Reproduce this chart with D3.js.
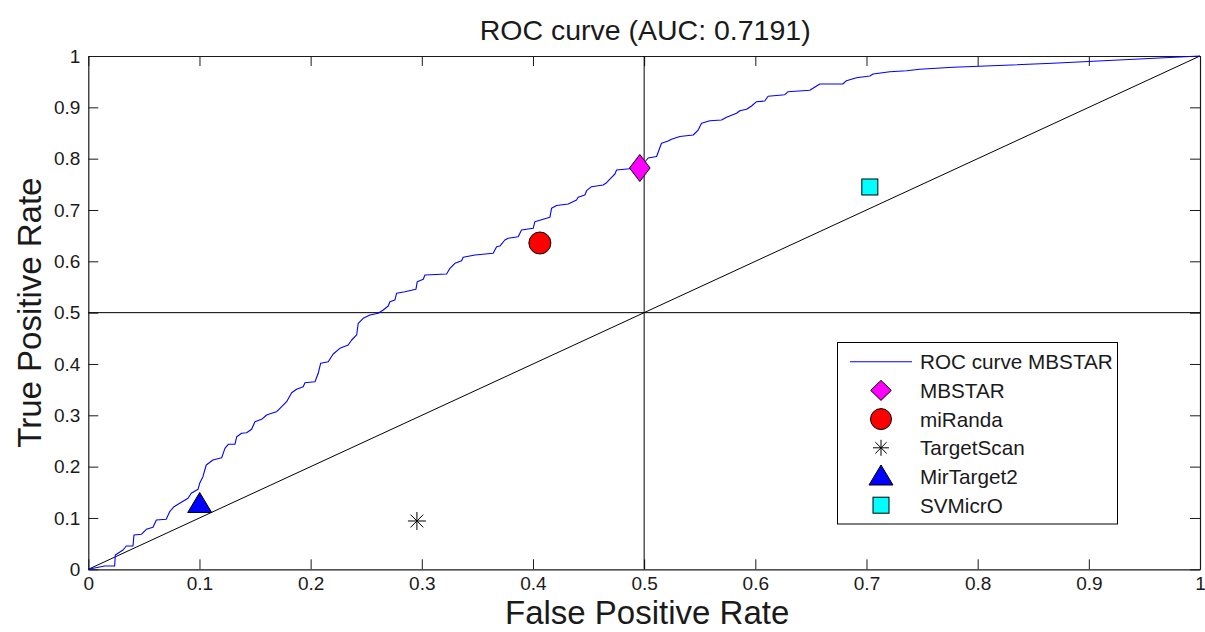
<!DOCTYPE html>
<html>
<head>
<meta charset="utf-8">
<script src="https://cdn.jsdelivr.net/npm/d3@7"></script>
<style>
  html, body { margin: 0; padding: 0; background: #fff; }
  svg { display: block; font-family: "Liberation Sans", Arial, Helvetica, sans-serif; }
</style>
</head>
<body>
<svg id="chart" width="1205" height="632"></svg>
<script>
// ROC curve of MBSTAR (false positive rate, true positive rate)
const rocFpr = [
  0, 0.0147, 0.0237, 0.0243, 0.0312, 0.0342, 0.0402, 0.0411, 0.0477, 0.0522,
  0.0582, 0.0612, 0.0701, 0.0732, 0.0771, 0.0822, 0.0897, 0.0926, 0.0987, 0.1002,
  0.1031, 0.1061, 0.1121, 0.1200, 0.1229, 0.1259, 0.1319, 0.1335, 0.1379, 0.1424,
  0.1469, 0.1499, 0.1559, 0.1604, 0.1649, 0.1694, 0.1724, 0.1784, 0.1829, 0.1874,
  0.1933, 0.1949, 0.2039, 0.2068, 0.2090, 0.2158, 0.2203, 0.2263, 0.2338, 0.2369,
  0.2414, 0.2428, 0.2473, 0.2533, 0.2608, 0.2653, 0.2698, 0.2713, 0.2758, 0.2773,
  0.2848, 0.2947, 0.2959, 0.3013, 0.3028, 0.3223, 0.3253, 0.3298, 0.3358, 0.3372,
  0.3478, 0.3642, 0.3673, 0.3702, 0.3747, 0.3777, 0.3867, 0.3897, 0.4002, 0.4017,
  0.4092, 0.4152, 0.4167, 0.4212, 0.4317, 0.4392, 0.4406, 0.4467, 0.4482, 0.4527,
  0.4631, 0.4662, 0.4707, 0.4737, 0.4752, 0.4871, 0.4961, 0.5036, 0.5112, 0.5156,
  0.5216, 0.5246, 0.5321, 0.5441, 0.5486, 0.5516, 0.5591, 0.5696, 0.5741, 0.5831,
  0.5861, 0.5921, 0.5966, 0.6011, 0.6085, 0.6115, 0.6265, 0.6295, 0.6490, 0.6580,
  0.6787, 0.6820, 0.6910, 0.7030, 0.7059, 0.7210, 0.7360, 0.7479, 0.7779, 0.8675,
  1
];
const rocTpr = [
  0, 0.0064, 0.0064, 0.0279, 0.0376, 0.0454, 0.0454, 0.0668, 0.0682, 0.0779,
  0.0818, 0.0960, 0.0974, 0.1122, 0.1220, 0.1286, 0.1383, 0.1481, 0.1559, 0.1675,
  0.1804, 0.2032, 0.2129, 0.2174, 0.2357, 0.2435, 0.2435, 0.2583, 0.2650, 0.2661,
  0.2727, 0.2876, 0.2922, 0.3006, 0.3039, 0.3070, 0.3137, 0.3265, 0.3440, 0.3507,
  0.3557, 0.3635, 0.3655, 0.3818, 0.4013, 0.4044, 0.4194, 0.4305, 0.4370, 0.4467,
  0.4565, 0.4793, 0.4890, 0.4954, 0.4987, 0.5052, 0.5130, 0.5213, 0.5246, 0.5377,
  0.5408, 0.5455, 0.5603, 0.5650, 0.5734, 0.5753, 0.5864, 0.5961, 0.6012, 0.6078,
  0.6123, 0.6156, 0.6285, 0.6298, 0.6415, 0.6449, 0.6480, 0.6610, 0.6643, 0.6772,
  0.6819, 0.6858, 0.7033, 0.7087, 0.7117, 0.7195, 0.7247, 0.7292, 0.7376, 0.7454,
  0.7487, 0.7532, 0.7637, 0.7701, 0.7779, 0.7802, 0.7818, 0.8013, 0.8042, 0.8299,
  0.8344, 0.8377, 0.8432, 0.8461, 0.8558, 0.8689, 0.8739, 0.8753, 0.8806, 0.8884,
  0.8934, 0.8962, 0.9026, 0.9110, 0.9123, 0.9215, 0.9246, 0.9305, 0.9332, 0.9455,
  0.9455, 0.9519, 0.9575, 0.9610, 0.9649, 0.9694, 0.9714, 0.9741, 0.9780, 0.9858,
  1
];

// Single operating points of the other predictors
const methodNames = ["MBSTAR", "miRanda", "TargetScan", "MirTarget2", "SVMicrO"];
const methodFpr   = [0.4961, 0.4062, 0.2956, 0.1002, 0.7030];
const methodTpr   = [0.7818, 0.6357, 0.0941, 0.1272, 0.7448];

const tickValues = [0, 0.1, 0.2, 0.3, 0.4, 0.5, 0.6, 0.7, 0.8, 0.9, 1];
const tickLabels = ["0", "0.1", "0.2", "0.3", "0.4", "0.5", "0.6", "0.7", "0.8", "0.9", "1"];

const titleText = "ROC curve (AUC: 0.7191)";
const xLabel = "False Positive Rate";
const yLabel = "True Positive Rate";
const curveLabel = "ROC curve MBSTAR";

// ---- layout & styles ----
const plot = { left: 88.3, right: 1200, top: 56, bottom: 569.3 };
const ink = "#1a1a1a";
const markerStyle = {
  "MBSTAR":     { shape: "diamond",  fill: "#ff00ff" },
  "miRanda":    { shape: "circle",   fill: "#ff0000" },
  "TargetScan": { shape: "asterisk", fill: "none" },
  "MirTarget2": { shape: "triangle", fill: "#0000ff" },
  "SVMicrO":    { shape: "square",   fill: "#00ffff" }
};

const svg = d3.select("#chart");
const x = d3.scaleLinear().domain([0, 1]).range([plot.left, plot.right]);
const y = d3.scaleLinear().domain([0, 1]).range([plot.bottom, plot.top]);
const fmt = v => tickLabels[tickValues.indexOf(v)];

// axes with inward ticks on all four sides
const tickLen = 10;
svg.append("g").attr("transform", `translate(0,${plot.bottom})`)
  .call(d3.axisBottom(x).tickValues(tickValues).tickFormat(fmt).tickSizeInner(-tickLen).tickSizeOuter(0).tickPadding(7))
  .call(g => g.selectAll("text").attr("font-size", 19).attr("fill", ink))
  .call(g => g.selectAll("line,path").attr("stroke", ink));
svg.append("g").attr("transform", `translate(0,${plot.top})`)
  .call(d3.axisTop(x).tickValues(tickValues).tickFormat("").tickSizeInner(-tickLen).tickSizeOuter(0))
  .call(g => g.selectAll("line,path").attr("stroke", ink));
svg.append("g").attr("transform", `translate(${plot.left},0)`)
  .call(d3.axisLeft(y).tickValues(tickValues).tickFormat(fmt).tickSizeInner(-tickLen).tickSizeOuter(0).tickPadding(8))
  .call(g => g.selectAll("text").attr("font-size", 19).attr("fill", ink))
  .call(g => g.selectAll("line,path").attr("stroke", ink));
svg.append("g").attr("transform", `translate(${plot.right},0)`)
  .call(d3.axisRight(y).tickValues(tickValues).tickFormat("").tickSizeInner(-tickLen).tickSizeOuter(0))
  .call(g => g.selectAll("line,path").attr("stroke", ink));
svg.selectAll(".domain").attr("stroke-width", 1.2);

// reference lines: chance diagonal and the 0.5 cross-hairs
const refs = svg.append("g").attr("stroke", "#000").attr("stroke-width", 1).attr("fill", "none");
refs.append("line").attr("x1", x(0)).attr("y1", y(0)).attr("x2", x(1)).attr("y2", y(1));
refs.append("line").attr("x1", x(0.5)).attr("y1", y(0)).attr("x2", x(0.5)).attr("y2", y(1));
refs.append("line").attr("x1", x(0)).attr("y1", y(0.5)).attr("x2", x(1)).attr("y2", y(0.5));

// ROC curve
const rocPoints = rocFpr.map((f, i) => [f, rocTpr[i]]);
svg.append("path")
  .datum(rocPoints)
  .attr("fill", "none")
  .attr("stroke", "#0000ff")
  .attr("stroke-width", 1.1)
  .attr("stroke-linejoin", "round")
  .attr("d", d3.line().x(d => x(d[0])).y(d => y(d[1])));

// marker drawing
function drawMarker(g, name, cx, cy, inLegend) {
  const st = markerStyle[name];
  const m = g.append("g").attr("transform", `translate(${cx},${cy})`)
    .attr("stroke", "#000").attr("stroke-width", 1).attr("fill", st.fill);
  if (st.shape === "diamond") {
    const hw = 10.3, hh = inLegend ? 10 : 13.5;
    m.append("path").attr("d", `M0,${-hh}L${hw},0L0,${hh}L${-hw},0Z`);
  } else if (st.shape === "circle") {
    m.append("circle").attr("r", inLegend ? 10.5 : 11);
  } else if (st.shape === "asterisk") {
    const r = inLegend ? 8 : 9;
    const d = r * Math.SQRT1_2;
    m.append("path").attr("fill", "none")
      .attr("d", `M${-r},0L${r},0M0,${-r}L0,${r}M${-d},${-d}L${d},${d}M${-d},${d}L${d},${-d}`);
  } else if (st.shape === "triangle") {
    m.append("path").attr("d", "M0,-11.5L12,8.5L-12,8.5Z");
  } else if (st.shape === "square") {
    m.append("rect").attr("x", -8).attr("y", -8).attr("width", 16).attr("height", 16);
  }
}

const marks = svg.append("g");
methodNames.forEach((n, i) => drawMarker(marks, n, x(methodFpr[i]), y(methodTpr[i]), false));

// title and axis labels
svg.append("text").attr("x", (plot.left + plot.right) / 2 + 1).attr("y", 40)
  .attr("text-anchor", "middle").attr("font-size", 28.5).attr("fill", ink).text(titleText);
svg.append("text").attr("x", (plot.left + plot.right) / 2 + 3).attr("y", 624)
  .attr("text-anchor", "middle").attr("font-size", 33).attr("fill", ink).text(xLabel);
svg.append("text")
  .attr("transform", `translate(41,${(plot.top + plot.bottom) / 2}) rotate(-90)`)
  .attr("text-anchor", "middle").attr("font-size", 33).attr("fill", ink).text(yLabel);

// legend
const lg = svg.append("g");
const box = { x: 837.5, y: 342.5, w: 280, h: 181.5 };
lg.append("rect").attr("x", box.x).attr("y", box.y).attr("width", box.w).attr("height", box.h)
  .attr("fill", "#fff").attr("stroke", "#000").attr("stroke-width", 1);
const rowY = i => 361.7 + i * 28.7;
const textX = 920;
lg.append("line").attr("x1", 850).attr("x2", 912).attr("y1", rowY(0)).attr("y2", rowY(0))
  .attr("stroke", "#0000ff").attr("stroke-width", 1.1);
lg.append("text").attr("x", textX).attr("y", rowY(0)).attr("dy", "0.36em")
  .attr("font-size", 20.7).attr("fill", ink).text(curveLabel);
methodNames.forEach((n, i) => {
  drawMarker(lg, n, 881, rowY(i + 1), true);
  lg.append("text").attr("x", textX).attr("y", rowY(i + 1)).attr("dy", "0.36em")
    .attr("font-size", 20.7).attr("fill", ink).text(n);
});
</script>
</body>
</html>
